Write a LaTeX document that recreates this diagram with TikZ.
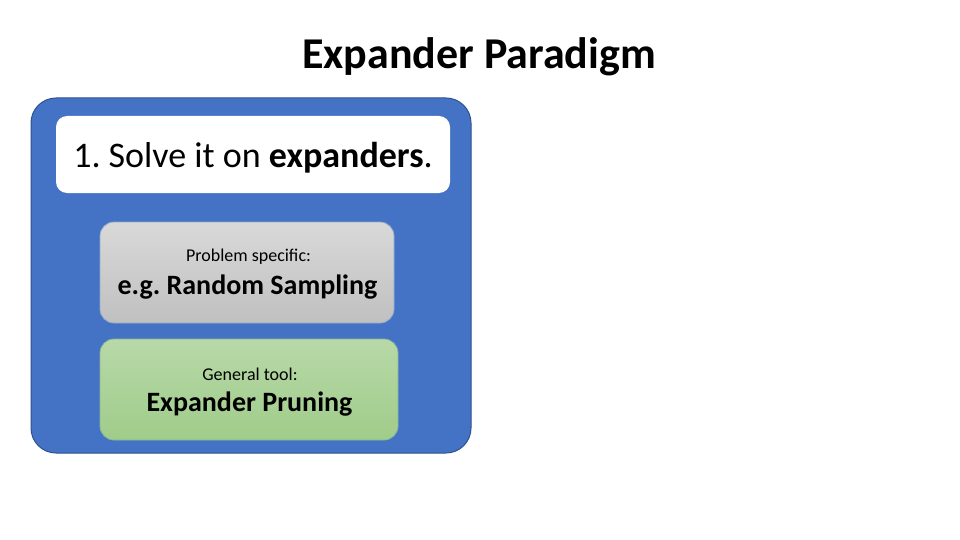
\documentclass[tikz,border=0pt]{standalone}
\usepackage{fontspec}
\setmainfont{Carlito}
\frenchspacing
\begin{document}
\begin{tikzpicture}[x=1pt,y=-1pt,
  txt/.style={inner sep=0pt, text=black},
  bluebox/.style={draw={rgb,255:red,47;green,82;blue,143}, line width=1pt, fill={rgb,255:red,68;green,114;blue,196}, rounded corners=25pt},
  whitebox/.style={fill=white, rounded corners=11pt},
  graybox/.style={draw={rgb,255:red,150;green,170;blue,200}, line width=0.8pt, rounded corners=14pt, top color={rgb,255:red,217;green,217;blue,217}, bottom color={rgb,255:red,192;green,192;blue,192}},
  greenbox/.style={draw={rgb,255:red,140;green,180;blue,150}, line width=0.8pt, rounded corners=14pt, top color={rgb,255:red,183;green,217;blue,168}, bottom color={rgb,255:red,160;green,204;blue,138}}
]
\useasboundingbox (0,0) rectangle (960,540);
\fill[white] (0,0) rectangle (960,540);
\node[txt, font=\bfseries\fontsize{44}{48}\selectfont] (title) at (479,57) {Expander Paradigm};
\draw[bluebox] (31,98) rectangle (471,453);
\fill[whitebox] (56,116) rectangle (450,193);
\node[txt, font=\fontsize{36}{40}\selectfont] (step1) at (253,158) {1. Solve it on \textbf{expanders}.};
\draw[graybox] (100,222) rectangle (394,323);
\node[txt, font=\fontsize{18}{20}\selectfont] (ps) at (248.5,257) {Problem specific:};
\node[txt, font=\bfseries\fontsize{28}{32}\selectfont] (rs) at (247.5,287) {e.g. Random Sampling};
\draw[greenbox] (100,339) rectangle (398,440);
\node[txt, font=\fontsize{18}{20}\selectfont] (gt) at (250,374) {General tool:};
\node[txt, font=\bfseries\fontsize{28}{32}\selectfont] (ep) at (249.5,404) {Expander Pruning};
\end{tikzpicture}
\end{document}
